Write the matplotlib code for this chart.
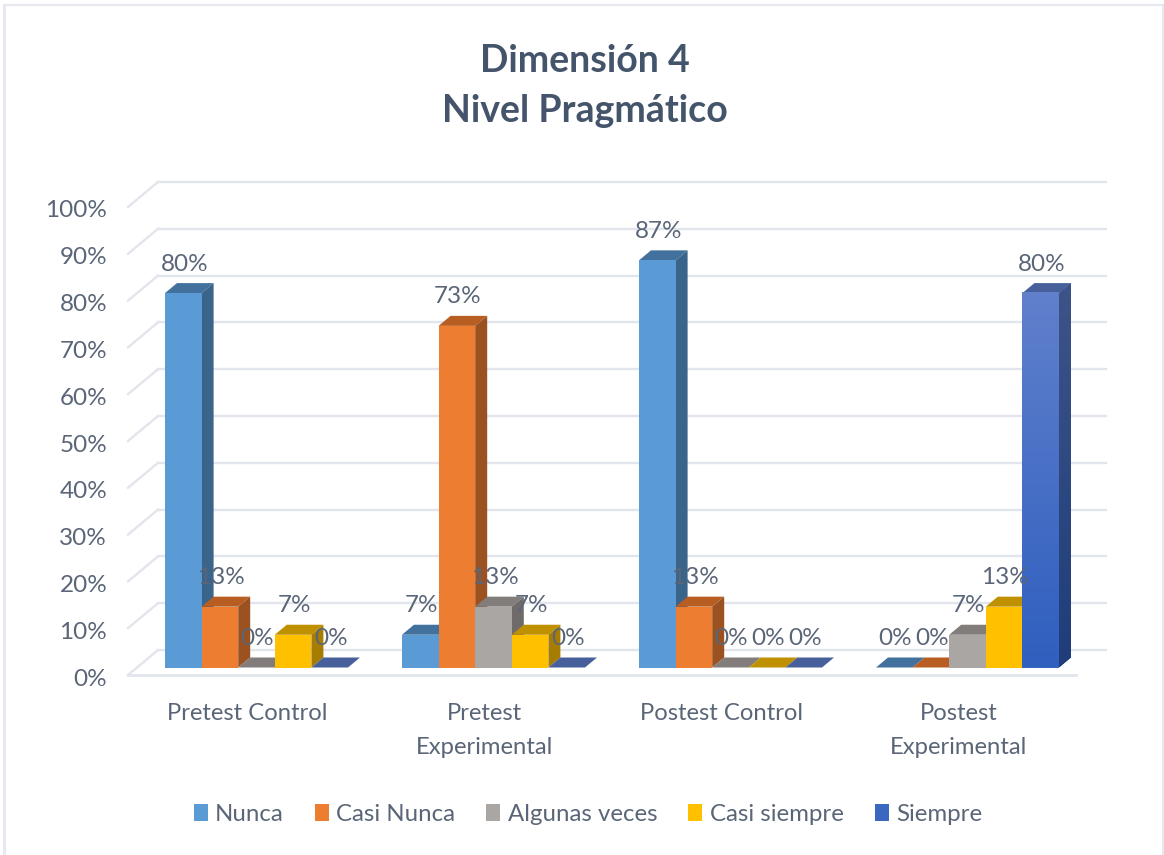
import matplotlib
matplotlib.use('Agg')
import matplotlib.pyplot as plt
from matplotlib.colors import LinearSegmentedColormap
from matplotlib.lines import Line2D
from matplotlib.patches import Patch, Polygon
from matplotlib.transforms import ScaledTranslation
import numpy as np

plt.rcParams['font.family'] = ['Lato', 'DejaVu Sans']

# data
groups = ['Pretest Control', 'Pretest\nExperimental', 'Postest Control', 'Postest\nExperimental']
series = ['Nunca', 'Casi Nunca', 'Algunas veces', 'Casi siempre', 'Siempre']
nunca = [80, 7, 87, 0]
casi_nunca = [13, 73, 13, 0]
algunas = [0, 13, 0, 7]
casi_siempre = [7, 7, 0, 13]
siempre = [0, 0, 0, 80]
values = [nunca, casi_nunca, algunas, casi_siempre, siempre]

front = ['#5b9bd5', '#ed7d31', '#aaa6a4', '#ffc000', '#3a68c0']
side = ['#3a6489', '#9b5220', '#6f6b6a', '#a67d00', '#2c4580']
top = ['#41719c', '#b85e22', '#827d7b', '#bf9000', '#47609b']

text_col = '#5a6678'
grid_col = '#e2e5ec'

W, H = 1164, 855
fig = plt.figure(figsize=(W / 100, H / 100), dpi=100)
ax = fig.add_axes([128 / W, (H - 675) / H, 948 / W, 468 / H])
ax.set_xlim(0, 4)
ax.set_ylim(0, 100)
for s in ax.spines.values():
    s.set_visible(False)

# sizes of the fake 3d, in data units (237px per group, 4.68px per percent)
wall_x, wall_y = 30 / 237, 25 / 4.68
dep_x, dep_y = 12 / 237, 10 / 4.68
bar_w = 36.6 / 237
base = 7.5 / 4.68
start = 37 / 237

# back wall + left wall grid
ticks = np.arange(0, 101, 10)
for t in ticks:
    ax.plot([0, wall_x], [t, t + wall_y], color=grid_col, lw=1.7, clip_on=False, zorder=1)
    ax.plot([wall_x, 4 + wall_x], [t + wall_y, t + wall_y], color=grid_col, lw=1.7, clip_on=False, zorder=1)
ax.plot([0, 4], [0, 0], color=grid_col, lw=2, clip_on=False, zorder=1)

blue_front = LinearSegmentedColormap.from_list('bf', ['#2f5fbf', '#6080cc'])
blue_side = LinearSegmentedColormap.from_list('bs', ['#1f3d7a', '#3d5488'])
grad = np.linspace(0, 1, 256).reshape(-1, 1)

z = 2
for g in range(len(groups)):
    for i in range(len(series)):
        v = values[i][g]
        x = g + start + i * bar_w
        y1 = base + v
        ax.add_patch(Polygon([(x, y1), (x + dep_x, y1 + dep_y), (x + bar_w + dep_x, y1 + dep_y), (x + bar_w, y1)],
                             fc=top[i], ec='none', clip_on=False, zorder=z))
        sp = Polygon([(x + bar_w, base), (x + bar_w + dep_x, base + dep_y), (x + bar_w + dep_x, y1 + dep_y), (x + bar_w, y1)],
                     fc=side[i], ec='none', clip_on=False, zorder=z)
        ax.add_patch(sp)
        if v > 0:
            ax.bar(x, v, bar_w, bottom=base, align='edge', color=front[i], clip_on=False, zorder=z + 0.5)
        # the big Siempre bar fades upward
        if i == 4 and v > 0:
            ax.imshow(grad, origin='lower', aspect='auto', cmap=blue_front, zorder=z + 0.6,
                      extent=[x, x + bar_w, base, y1], clip_on=False)
            im = ax.imshow(grad, origin='lower', aspect='auto', cmap=blue_side, zorder=z + 0.6,
                           extent=[x + bar_w, x + bar_w + dep_x, base, y1 + dep_y])
            im.set_clip_path(sp)
        z += 1

ax.set_xlim(0, 4)
ax.set_ylim(0, 100)

# data labels
for g in range(len(groups)):
    for i in range(len(series)):
        v = values[i][g]
        x = g + start + (i + 0.5) * bar_w
        ax.text(x + 1 / 237, base + v + 29 / 4.68, f'{v}%', ha='center', va='center',
                fontsize=17.5, color=text_col, zorder=100, clip_on=False)

ax.set_yticks(ticks)
ax.set_yticklabels([f'{t}%' for t in ticks], fontsize=17.5, color=text_col)
ax.set_xticks(np.arange(len(groups)) + 0.505)
ax.set_xticklabels(groups, fontsize=17.2, color=text_col, linespacing=1.78)
ax.tick_params(axis='y', length=0, pad=15)
ax.tick_params(axis='x', length=0, pad=20)
# nudge y labels 2px down, Lato sits a bit high (has to come after tick_params)
for lab in ax.get_yticklabels():
    lab.set_transform(lab.get_transform() + ScaledTranslation(0, -2 / 100, fig.dpi_scale_trans))

fig.text(585 / W, 1 - 86 / H, 'Dimensión 4\nNivel Pragmático', ha='center', va='center',
         fontsize=27, fontweight='bold', color='#44546a', linespacing=1.6)

handles = [Patch(fc=front[i], ec='none') for i in range(len(series))]
fig.legend(handles, series, ncol=5, loc='center', bbox_to_anchor=(588 / W, 1 - 814 / H), frameon=False,
           fontsize=17.3, labelcolor=text_col, handlelength=0.58, handleheight=0.7,
           handletextpad=0.3, columnspacing=1.3)

# outer frame of the picture, no bottom edge
frame_col = '#e6e9ef'
fig.add_artist(Line2D([3.5 / W, 3.5 / W], [0, 1 - 5 / H], color=frame_col, lw=2.2))
fig.add_artist(Line2D([3.5 / W, 1], [1 - 5 / H, 1 - 5 / H], color=frame_col, lw=1.6))
fig.add_artist(Line2D([1163 / W, 1163 / W], [0, 1 - 5 / H], color=frame_col, lw=1.5))

fig.savefig('out.png', dpi=100)
